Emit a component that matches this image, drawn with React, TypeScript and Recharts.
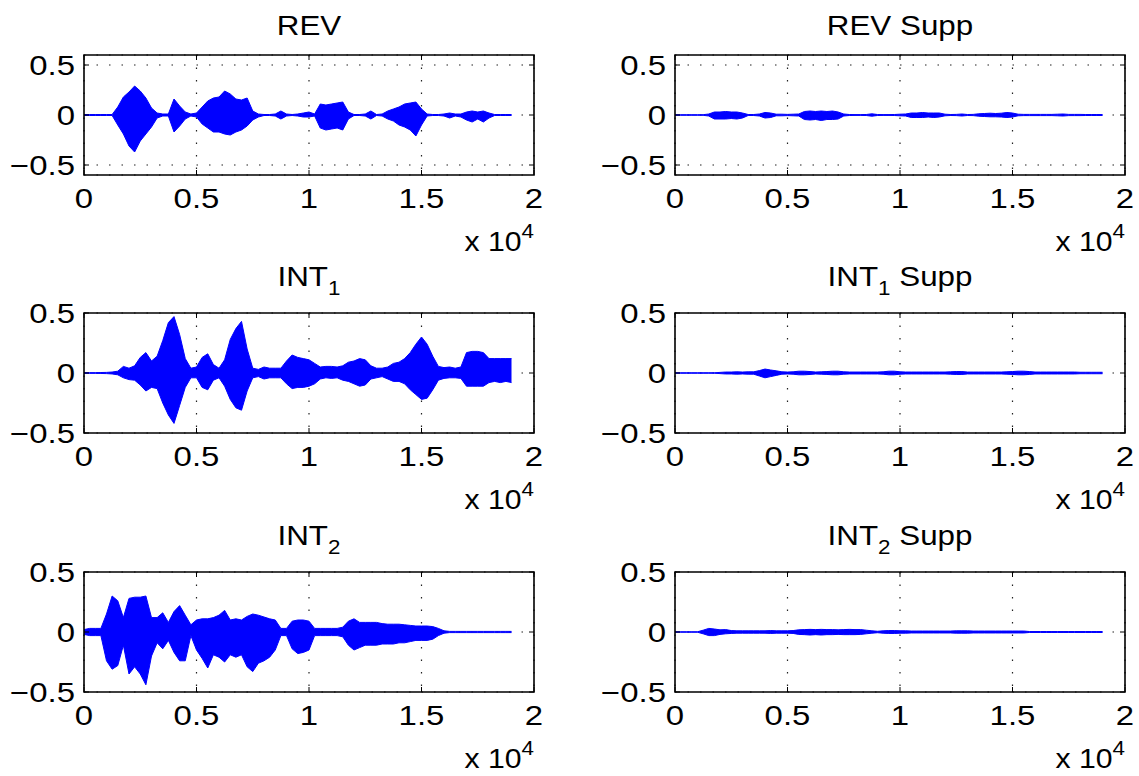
import React from "react"
import { ComposedChart, Area, XAxis, YAxis, CartesianGrid, ReferenceArea } from "recharts"

// sample index of every envelope point (one point each 250 samples, 0 ... 19000)
const STEP = 250
const sampleIndex = Array.from({ length: 77 }, (_, i) => i * STEP)

const xTicks = [0, 5000, 10000, 15000, 20000]
const xTickLabels = ["0", "0.5", "1", "1.5", "2"]
const yTicks = [-0.5, 0, 0.5]
const yTickLabels = ["\u22120.5", "0", "0.5"]

// upper / lower envelope of each signal
const revHi = [
  0.005, 0.005, 0.005, 0.005, 0.005, 0.005, 0.08, 0.18, 0.23, 0.29,
  0.24, 0.17, 0.07, 0.02, 0.01, 0.01, 0.16, 0.09, 0.03, 0.01,
  0.02, 0.08, 0.14, 0.17, 0.18, 0.24, 0.21, 0.16, 0.15, 0.17,
  0.04, 0.01, 0.005, 0.005, 0.01, 0.04, 0.01, 0.005, 0.01, 0.02,
  0.03, 0.01, 0.11, 0.1, 0.11, 0.12, 0.13, 0.03, 0.005, 0.005,
  0.01, 0.04, 0.005, 0.01, 0.04, 0.06, 0.08, 0.11, 0.12, 0.13,
  0.06, 0.01, 0.005, 0.005, 0.01, 0.02, 0.01, 0.01, 0.03, 0.04,
  0.03, 0.04, 0.02, 0.005, 0.005, 0.005, 0.005,
]
const revLo = [
  -0.005, -0.005, -0.005, -0.005, -0.005, -0.005, -0.1, -0.19, -0.31, -0.37,
  -0.26, -0.19, -0.12, -0.03, -0.01, -0.01, -0.17, -0.11, -0.04, -0.01,
  -0.02, -0.09, -0.13, -0.17, -0.17, -0.19, -0.2, -0.17, -0.15, -0.11,
  -0.05, -0.02, -0.005, -0.005, -0.01, -0.04, -0.01, -0.005, -0.01, -0.02,
  -0.02, -0.01, -0.13, -0.15, -0.14, -0.13, -0.15, -0.04, -0.005, -0.005,
  -0.01, -0.04, -0.005, -0.01, -0.04, -0.06, -0.1, -0.12, -0.15, -0.21,
  -0.1, -0.01, -0.005, -0.005, -0.01, -0.03, -0.01, -0.02, -0.05, -0.07,
  -0.04, -0.07, -0.03, -0.005, -0.005, -0.005, -0.005,
]
const revSuppHi = [
  0.003, 0.003, 0.003, 0.003, 0.003, 0.003, 0.01, 0.03, 0.03, 0.035,
  0.03, 0.03, 0.02, 0.005, 0.005, 0.01, 0.025, 0.02, 0.008, 0.008,
  0.006, 0.008, 0.01, 0.035, 0.04, 0.035, 0.04, 0.035, 0.04, 0.03,
  0.01, 0.005, 0.004, 0.004, 0.005, 0.012, 0.005, 0.004, 0.004, 0.005,
  0.008, 0.01, 0.02, 0.02, 0.025, 0.02, 0.02, 0.02, 0.008, 0.005,
  0.006, 0.01, 0.005, 0.006, 0.012, 0.015, 0.018, 0.015, 0.018, 0.025,
  0.02, 0.008, 0.006, 0.006, 0.006, 0.006, 0.006, 0.006, 0.008, 0.01,
  0.006, 0.006, 0.006, 0.005, 0.005, 0.005, 0.005,
]
const revSuppLo = [
  -0.003, -0.003, -0.003, -0.003, -0.003, -0.003, -0.01, -0.04, -0.04, -0.04,
  -0.035, -0.04, -0.03, -0.005, -0.005, -0.01, -0.03, -0.025, -0.008, -0.008,
  -0.006, -0.008, -0.01, -0.045, -0.05, -0.045, -0.055, -0.045, -0.045, -0.04,
  -0.01, -0.005, -0.004, -0.004, -0.005, -0.012, -0.005, -0.004, -0.004, -0.005,
  -0.008, -0.01, -0.025, -0.025, -0.025, -0.02, -0.025, -0.02, -0.008, -0.005,
  -0.006, -0.01, -0.005, -0.006, -0.012, -0.015, -0.018, -0.018, -0.02, -0.025,
  -0.02, -0.008, -0.006, -0.006, -0.006, -0.006, -0.006, -0.006, -0.008, -0.01,
  -0.006, -0.006, -0.006, -0.005, -0.005, -0.005, -0.005,
]
const int1Hi = [
  0.003, 0.003, 0.003, 0.004, 0.005, 0.008, 0.015, 0.055, 0.04, 0.06,
  0.13, 0.17, 0.1, 0.14, 0.27, 0.42, 0.47, 0.32, 0.12, 0.04,
  0.05, 0.13, 0.16, 0.07, 0.04, 0.11, 0.28, 0.37, 0.43, 0.2,
  0.04, 0.03, 0.05, 0.04, 0.04, 0.04, 0.1, 0.15, 0.13, 0.12,
  0.11, 0.08, 0.05, 0.055, 0.055, 0.05, 0.06, 0.09, 0.1, 0.12,
  0.11, 0.06, 0.04, 0.04, 0.05, 0.08, 0.09, 0.12, 0.17, 0.24,
  0.3, 0.24, 0.14, 0.055, 0.045, 0.05, 0.04, 0.05, 0.17, 0.18,
  0.18, 0.17, 0.12, 0.12, 0.12, 0.12, 0.12,
]
const int1Lo = [
  -0.003, -0.003, -0.003, -0.004, -0.005, -0.008, -0.015, -0.04, -0.055, -0.06,
  -0.1, -0.15, -0.12, -0.13, -0.25, -0.35, -0.42, -0.27, -0.12, -0.04,
  -0.04, -0.12, -0.14, -0.06, -0.04, -0.11, -0.22, -0.29, -0.31, -0.15,
  -0.04, -0.03, -0.05, -0.04, -0.04, -0.04, -0.09, -0.13, -0.12, -0.12,
  -0.11, -0.09, -0.05, -0.04, -0.045, -0.04, -0.06, -0.07, -0.09, -0.11,
  -0.1, -0.05, -0.04, -0.03, -0.05, -0.07, -0.07, -0.09, -0.14, -0.18,
  -0.22, -0.21, -0.14, -0.06, -0.045, -0.04, -0.04, -0.045, -0.11, -0.11,
  -0.11, -0.11, -0.08, -0.07, -0.08, -0.07, -0.08,
]
const int1SuppHi = [
  0.002, 0.002, 0.002, 0.002, 0.002, 0.002, 0.002, 0.002, 0.005, 0.008,
  0.008, 0.01, 0.008, 0.01, 0.01, 0.02, 0.033, 0.025, 0.018, 0.01,
  0.008, 0.01, 0.015, 0.015, 0.012, 0.008, 0.01, 0.012, 0.015, 0.015,
  0.01, 0.008, 0.008, 0.008, 0.008, 0.008, 0.008, 0.01, 0.015, 0.015,
  0.01, 0.008, 0.008, 0.008, 0.008, 0.008, 0.008, 0.008, 0.008, 0.01,
  0.012, 0.012, 0.008, 0.008, 0.008, 0.008, 0.008, 0.008, 0.008, 0.01,
  0.012, 0.015, 0.015, 0.012, 0.008, 0.008, 0.008, 0.008, 0.008, 0.008,
  0.008, 0.008, 0.006, 0.006, 0.006, 0.006, 0.006,
]
const int1SuppLo = [
  -0.002, -0.002, -0.002, -0.002, -0.002, -0.002, -0.002, -0.002, -0.005, -0.008,
  -0.008, -0.01, -0.008, -0.01, -0.01, -0.025, -0.04, -0.03, -0.02, -0.01,
  -0.008, -0.01, -0.015, -0.015, -0.012, -0.008, -0.01, -0.012, -0.015, -0.015,
  -0.01, -0.008, -0.008, -0.008, -0.008, -0.008, -0.008, -0.01, -0.015, -0.015,
  -0.01, -0.008, -0.008, -0.008, -0.008, -0.008, -0.008, -0.008, -0.008, -0.01,
  -0.012, -0.012, -0.008, -0.008, -0.008, -0.008, -0.008, -0.008, -0.008, -0.01,
  -0.012, -0.015, -0.015, -0.012, -0.008, -0.008, -0.008, -0.008, -0.008, -0.008,
  -0.008, -0.008, -0.006, -0.006, -0.006, -0.006, -0.006,
]
const int2Hi = [
  0.02, 0.03, 0.03, 0.03, 0.15, 0.3, 0.26, 0.12, 0.28, 0.29,
  0.29, 0.3, 0.12, 0.12, 0.16, 0.08, 0.17, 0.22, 0.14, 0.06,
  0.1, 0.11, 0.11, 0.12, 0.14, 0.18, 0.1, 0.11, 0.1, 0.13,
  0.15, 0.14, 0.125, 0.11, 0.1, 0.03, 0.03, 0.09, 0.1, 0.1,
  0.09, 0.03, 0.03, 0.03, 0.03, 0.03, 0.04, 0.09, 0.11, 0.08,
  0.08, 0.08, 0.08, 0.07, 0.065, 0.065, 0.065, 0.06, 0.055, 0.05,
  0.05, 0.05, 0.045, 0.03, 0.01, 0.005, 0.005, 0.005, 0.005, 0.005,
  0.005, 0.005, 0.005, 0.005, 0.005, 0.005, 0.005,
]
const int2Lo = [
  -0.02, -0.03, -0.03, -0.03, -0.24, -0.31, -0.28, -0.11, -0.35, -0.29,
  -0.35, -0.44, -0.2, -0.09, -0.14, -0.07, -0.17, -0.24, -0.24, -0.03,
  -0.15, -0.22, -0.3, -0.19, -0.21, -0.25, -0.19, -0.21, -0.19, -0.29,
  -0.33, -0.26, -0.24, -0.21, -0.15, -0.03, -0.03, -0.14, -0.18, -0.17,
  -0.15, -0.03, -0.03, -0.03, -0.03, -0.03, -0.04, -0.11, -0.15, -0.13,
  -0.11, -0.11, -0.11, -0.1, -0.1, -0.1, -0.09, -0.09, -0.08, -0.07,
  -0.07, -0.07, -0.06, -0.03, -0.01, -0.005, -0.005, -0.005, -0.005, -0.005,
  -0.005, -0.005, -0.005, -0.005, -0.005, -0.005, -0.005,
]
const int2SuppHi = [
  0.002, 0.002, 0.002, 0.002, 0.002, 0.015, 0.03, 0.025, 0.018, 0.02,
  0.012, 0.01, 0.01, 0.01, 0.01, 0.01, 0.01, 0.012, 0.01, 0.01,
  0.01, 0.012, 0.018, 0.02, 0.022, 0.02, 0.022, 0.02, 0.02, 0.018,
  0.02, 0.022, 0.02, 0.02, 0.015, 0.01, 0.006, 0.01, 0.012, 0.012,
  0.01, 0.01, 0.008, 0.008, 0.008, 0.008, 0.008, 0.008, 0.008, 0.008,
  0.01, 0.01, 0.01, 0.008, 0.008, 0.008, 0.008, 0.008, 0.008, 0.008,
  0.008, 0.008, 0.008, 0.004, 0.004, 0.004, 0.004, 0.004, 0.004, 0.004,
  0.004, 0.004, 0.004, 0.004, 0.004, 0.004, 0.004,
]
const int2SuppLo = [
  -0.002, -0.002, -0.002, -0.002, -0.002, -0.015, -0.03, -0.03, -0.02, -0.015,
  -0.012, -0.01, -0.01, -0.01, -0.01, -0.01, -0.01, -0.012, -0.01, -0.01,
  -0.01, -0.012, -0.02, -0.022, -0.025, -0.022, -0.025, -0.022, -0.022, -0.02,
  -0.022, -0.022, -0.022, -0.02, -0.015, -0.01, -0.006, -0.01, -0.012, -0.012,
  -0.01, -0.01, -0.008, -0.008, -0.008, -0.008, -0.008, -0.008, -0.008, -0.008,
  -0.01, -0.01, -0.01, -0.008, -0.008, -0.008, -0.008, -0.008, -0.008, -0.008,
  -0.008, -0.008, -0.008, -0.004, -0.004, -0.004, -0.004, -0.004, -0.004, -0.004,
  -0.004, -0.004, -0.004, -0.004, -0.004, -0.004, -0.004,
]

const FONT = '"Liberation Sans", Arial, Helvetica, sans-serif'
const TICK_FS = 27
const TITLE_FS = 28
const SUB_FS = 20
const TITLE_STRETCH = 1.12
const TICK_STRETCH = 1.22
const BLUE = "#0000ff"

const PLOT_W = 450
const PLOT_H = 120
const colLeft = [84, 675]
const rowTop = [55, 313, 572]

type Panel = {
  title: string
  sub: string
  rest: string
  hi: number[]
  lo: number[]
  yMax: number
}

const panels: Panel[] = [
  { title: "REV", sub: "", rest: "", hi: revHi, lo: revLo, yMax: 0.6 },
  { title: "REV", sub: "", rest: " Supp", hi: revSuppHi, lo: revSuppLo, yMax: 0.6 },
  { title: "INT", sub: "1", rest: "", hi: int1Hi, lo: int1Lo, yMax: 0.5 },
  { title: "INT", sub: "1", rest: " Supp", hi: int1SuppHi, lo: int1SuppLo, yMax: 0.5 },
  { title: "INT", sub: "2", rest: "", hi: int2Hi, lo: int2Lo, yMax: 0.5 },
  { title: "INT", sub: "2", rest: " Supp", hi: int2SuppHi, lo: int2SuppLo, yMax: 0.5 },
]

// x tick: label below the box plus small inward marks on bottom and top edges
function XTick(props: any) {
  const { x, y, payload } = props
  const label = xTickLabels[xTicks.indexOf(payload.value)]
  return (
    <g>
      <line x1={x} x2={x} y1={y} y2={y - 5} stroke="#000" strokeWidth={1} />
      <line x1={x} x2={x} y1={y - PLOT_H} y2={y - PLOT_H + 5} stroke="#000" strokeWidth={1} />
      <text
        transform={`translate(${x},${y + 33}) scale(${TICK_STRETCH},1)`}
        textAnchor="middle"
        fontFamily={FONT}
        fontSize={TICK_FS}
        fill="#000"
      >
        {label}
      </text>
    </g>
  )
}

// y tick: label left of the box plus inward marks on left and right edges
function YTick(props: any) {
  const { x, y, payload } = props
  const label = yTickLabels[yTicks.indexOf(payload.value)]
  return (
    <g>
      <line x1={x} x2={x + 5} y1={y} y2={y} stroke="#000" strokeWidth={1} />
      <line x1={x + PLOT_W} x2={x + PLOT_W - 5} y1={y} y2={y} stroke="#000" strokeWidth={1} />
      <text
        transform={`translate(${x - 9},${y + 10}) scale(${TICK_STRETCH},1)`}
        textAnchor="end"
        fontFamily={FONT}
        fontSize={TICK_FS}
        fill="#000"
      >
        {label}
      </text>
    </g>
  )
}

function WavePanel({ panel, left, top }: { panel: Panel; left: number; top: number }) {
  const data = sampleIndex.map((s, i) => ({ s, range: [panel.lo[i], panel.hi[i]] }))
  return (
    <div style={{ position: "absolute", left: left - 80, top: top - 50 }}>
      <ComposedChart
        width={80 + PLOT_W + 20}
        height={50 + PLOT_H + 45}
        data={data}
        margin={{ top: 50, right: 20, bottom: 0, left: 0 }}
      >
        <CartesianGrid stroke="#222" strokeWidth={1.2} strokeDasharray="1.5 11" />
        <XAxis
          dataKey="s"
          type="number"
          domain={[0, 20000]}
          ticks={xTicks}
          interval={0}
          allowDataOverflow
          axisLine={false}
          tickLine={false}
          tickSize={0}
          tickMargin={0}
          height={45}
          tick={(p: any) => <XTick {...p} />}
        />
        <YAxis
          type="number"
          domain={[-panel.yMax, panel.yMax]}
          ticks={yTicks}
          interval={0}
          allowDataOverflow
          axisLine={false}
          tickLine={false}
          tickSize={0}
          tickMargin={0}
          width={80}
          tick={(p: any) => <YTick {...p} />}
        />
        <Area
          type="linear"
          dataKey="range"
          stroke={BLUE}
          strokeWidth={1}
          fill={BLUE}
          fillOpacity={1}
          dot={false}
          activeDot={false}
          isAnimationActive={false}
        />
        <ReferenceArea
          x1={0}
          x2={20000}
          y1={-panel.yMax}
          y2={panel.yMax}
          fill="none"
          stroke="#000"
          strokeWidth={1.6}
          ifOverflow="visible"
        />
      </ComposedChart>
    </div>
  )
}

export default function App() {
  return (
    <div style={{ position: "absolute", left: 0, top: 0, width: 1139, height: 776, background: "#fff" }}>
      {panels.map((p, i) => (
        <WavePanel key={i} panel={p} left={colLeft[i % 2]} top={rowTop[Math.floor(i / 2)]} />
      ))}
      <svg width={1139} height={776} style={{ position: "absolute", left: 0, top: 0, pointerEvents: "none" }}>
        {panels.map((p, i) => {
          const left = colLeft[i % 2]
          const top = rowTop[Math.floor(i / 2)]
          const titleY = p.sub ? top - 27 : top - 20
          return (
            <g key={i} fontFamily={FONT} fill="#000">
              <text
                transform={`translate(${left + PLOT_W / 2},${titleY}) scale(${TITLE_STRETCH},1)`}
                textAnchor="middle"
                fontSize={TITLE_FS}
              >
                <tspan>{p.title}</tspan>
                {p.sub && (
                  <tspan fontSize={SUB_FS} dy={9}>
                    {p.sub}
                  </tspan>
                )}
                {p.rest && <tspan dy={p.sub ? -9 : 0}>{p.rest}</tspan>}
              </text>
              <text
                transform={`translate(${left + PLOT_W},${top + PLOT_H + 76}) scale(${TITLE_STRETCH},1)`}
                textAnchor="end"
                fontSize={TICK_FS}
              >
                <tspan>x 10</tspan>
                <tspan fontSize={SUB_FS} dy={-13}>
                  4
                </tspan>
              </text>
            </g>
          )
        })}
      </svg>
    </div>
  )
}
